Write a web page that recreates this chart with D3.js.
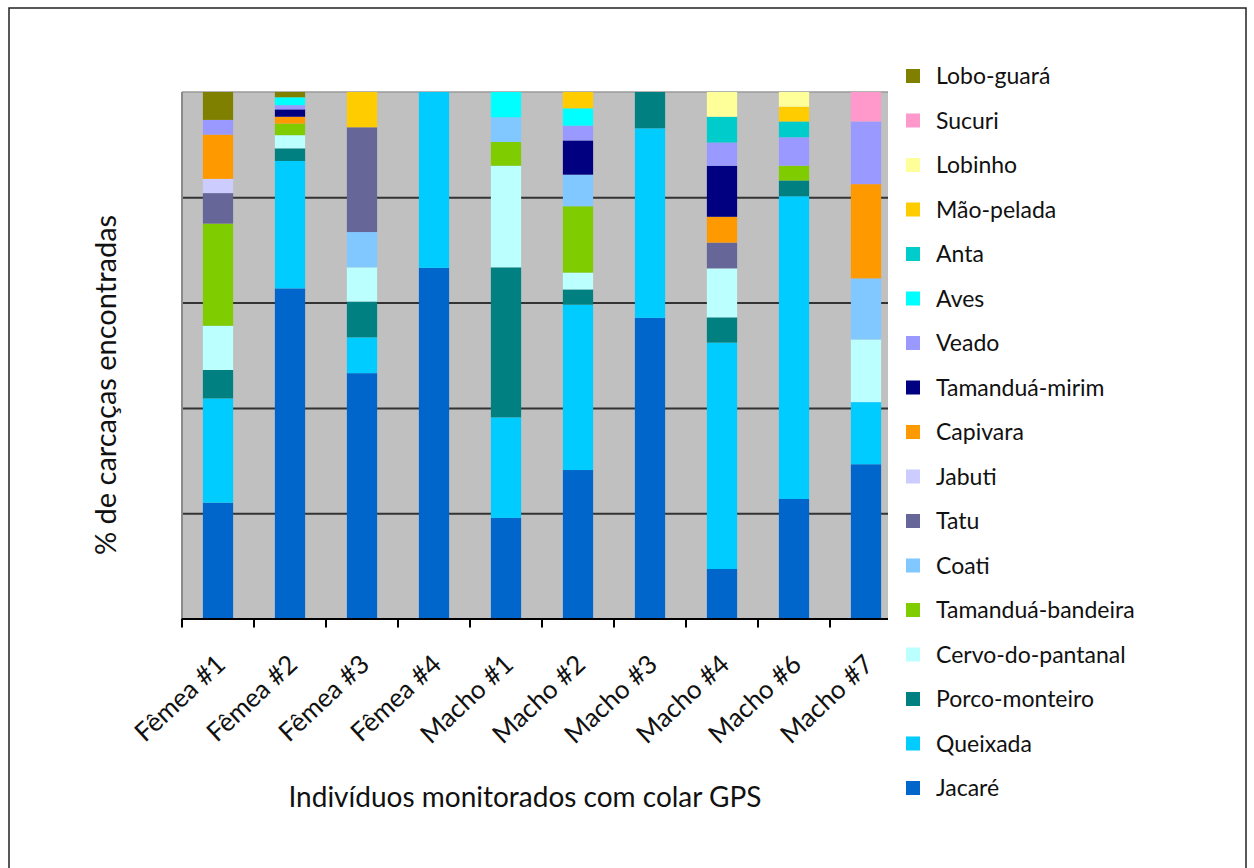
<!DOCTYPE html>
<html>
<head>
<meta charset="utf-8">
<script src="https://cdn.jsdelivr.net/npm/d3@7"></script>
<style>
  html, body { margin: 0; padding: 0; background: #fff; }
  svg { display: block; font-family: Lato, "Open Sans", sans-serif; }
</style>
</head>
<body>
<svg id="chart" width="1254" height="868"></svg>
<script>
// Individuals monitored with GPS collars
const individuals = ["Fêmea #1","Fêmea #2","Fêmea #3","Fêmea #4","Macho #1","Macho #2","Macho #3","Macho #4","Macho #6","Macho #7"];

// Carcass species, stacking order (bottom to top)
const species = ["Jacaré","Queixada","Porco-monteiro","Cervo-do-pantanal","Tamanduá-bandeira","Coati","Tatu","Jabuti","Capivara","Tamanduá-mirim","Veado","Aves","Anta","Mão-pelada","Lobinho","Sucuri","Lobo-guará"];

const speciesColors = ["#0066CC","#00CCFF","#008080","#BBFFFF","#7FCC00","#80C8FF","#666699","#CCCCFF","#FF9900","#000080","#9999FF","#00FFFF","#00CCCC","#FFCC00","#FFFF99","#FF99CC","#808000"];

// % of carcasses found, one value per individual
const jacare            = [22.0, 62.7, 46.6, 66.6, 19.1, 28.2, 57.1,  9.4, 22.7, 29.3];
const queixada          = [19.8, 24.2,  6.8, 33.4, 19.1, 31.4, 36.0, 43.0, 57.5, 11.8];
const porcoMonteiro     = [ 5.4,  2.4,  6.8,  0.0, 28.5,  2.9,  6.9,  4.8,  3.0,  0.0];
const cervoDoPantanal   = [ 8.4,  2.5,  6.5,  0.0, 19.3,  3.2,  0.0,  9.3,  0.0, 11.9];
const tamanduaBandeira  = [19.4,  2.2,  0.0,  0.0,  4.5, 12.6,  0.0,  0.0,  2.8,  0.0];
const coati             = [ 0.0,  0.0,  6.7,  0.0,  4.7,  6.0,  0.0,  0.0,  0.0, 11.6];
const tatu              = [ 5.8,  0.0, 19.9,  0.0,  0.0,  0.0,  0.0,  4.9,  0.0,  0.0];
const jabuti            = [ 2.7,  0.0,  0.0,  0.0,  0.0,  0.0,  0.0,  0.0,  0.0,  0.0];
const capivara          = [ 8.4,  1.3,  0.0,  0.0,  0.0,  0.0,  0.0,  4.9,  0.0, 17.9];
const tamanduaMirim     = [ 0.0,  1.4,  0.0,  0.0,  0.0,  6.5,  0.0,  9.7,  0.0,  0.0];
const veado             = [ 2.8,  0.8,  0.0,  0.0,  0.0,  2.8,  0.0,  4.4,  5.4, 11.9];
const aves              = [ 0.0,  1.5,  0.0,  0.0,  4.8,  3.3,  0.0,  0.0,  0.0,  0.0];
const anta              = [ 0.0,  0.0,  0.0,  0.0,  0.0,  0.0,  0.0,  4.9,  3.0,  0.0];
const maoPelada         = [ 0.0,  0.0,  6.7,  0.0,  0.0,  3.1,  0.0,  0.0,  2.8,  0.0];
const lobinho           = [ 0.0,  0.0,  0.0,  0.0,  0.0,  0.0,  0.0,  4.7,  2.8,  0.0];
const sucuri            = [ 0.0,  0.0,  0.0,  0.0,  0.0,  0.0,  0.0,  0.0,  0.0,  5.6];
const loboGuara         = [ 5.3,  1.0,  0.0,  0.0,  0.0,  0.0,  0.0,  0.0,  0.0,  0.0];

const seriesValues = [jacare, queixada, porcoMonteiro, cervoDoPantanal, tamanduaBandeira, coati, tatu, jabuti, capivara, tamanduaMirim, veado, aves, anta, maoPelada, lobinho, sucuri, loboGuara];

const gridValues = [20, 40, 60, 80];

// Build rows for d3.stack
const rows = individuals.map((name, i) => {
  const row = { name };
  species.forEach((s, k) => { row[s] = seriesValues[k][i]; });
  return row;
});

const svg = d3.select("#chart");

const plot = { left: 182, top: 92, bottom: 618.5, right: 888 };

const x = d3.scaleBand().domain(individuals).range([plot.left, plot.left + 720]).padding(0);
const y = d3.scaleLinear().domain([0, 100]).range([plot.bottom, plot.top]);
const color = d3.scaleOrdinal().domain(species).range(speciesColors);
const barWidth = x.bandwidth() * 0.42;

// Outer frame
svg.append("rect")
  .attr("x", 9).attr("y", 8).attr("width", 1237).attr("height", 880)
  .attr("fill", "none").attr("stroke", "#222").attr("stroke-width", 1.5);

// Plot background
svg.append("rect")
  .attr("x", plot.left).attr("y", plot.top)
  .attr("width", plot.right - plot.left).attr("height", plot.bottom - plot.top)
  .attr("fill", "#C0C0C0");

// Top edge of plot area
svg.append("line")
  .attr("x1", plot.left).attr("x2", plot.right)
  .attr("y1", plot.top).attr("y2", plot.top)
  .attr("stroke", "#9a9a9a").attr("stroke-width", 1.5);

// Horizontal gridlines
const grid = svg.append("g")
  .attr("transform", `translate(${plot.left},0)`)
  .call(d3.axisLeft(y).tickValues(gridValues).tickSize(-(plot.right - plot.left)).tickFormat(""));
grid.select(".domain").remove();
grid.selectAll(".tick line").attr("stroke", "#333").attr("stroke-width", 2);

// Left edge of plot
svg.append("line")
  .attr("x1", plot.left).attr("x2", plot.left)
  .attr("y1", plot.top).attr("y2", plot.bottom)
  .attr("stroke", "#8a8a8a").attr("stroke-width", 2);

// Stacked bars
const stacked = d3.stack().keys(species)(rows);
svg.append("g")
  .selectAll("g")
  .data(stacked)
  .join("g")
  .attr("fill", d => color(d.key))
  .selectAll("rect")
  .data(d => d.filter(p => p[1] - p[0] > 0))
  .join("rect")
  .attr("x", d => x(d.data.name) + (x.bandwidth() - barWidth) / 2)
  .attr("width", barWidth)
  .attr("y", d => y(d[1]))
  .attr("height", d => y(d[0]) - y(d[1]));

// Bottom axis with ticks at category boundaries
const boundaries = individuals.map(d => x(d));
svg.append("line")
  .attr("x1", plot.left).attr("x2", plot.right)
  .attr("y1", plot.bottom + 0.5).attr("y2", plot.bottom + 0.5)
  .attr("stroke", "#000").attr("stroke-width", 2);
svg.append("g")
  .selectAll("line")
  .data(boundaries)
  .join("line")
  .attr("x1", d => d).attr("x2", d => d)
  .attr("y1", plot.bottom).attr("y2", plot.bottom + 9)
  .attr("stroke", "#000").attr("stroke-width", 2);

// Rotated category labels
svg.append("g")
  .selectAll("text")
  .data(individuals)
  .join("text")
  .attr("transform", d => `translate(${x(d) + x.bandwidth() / 2 + 9},${plot.bottom + 48}) rotate(-43)`)
  .attr("text-anchor", "end")
  .attr("font-size", 26)
  .attr("fill", "#111")
  .text(d => d);

// Axis titles
svg.append("text")
  .attr("x", 525).attr("y", 807)
  .attr("text-anchor", "middle")
  .attr("font-size", 28)
  .attr("fill", "#111")
  .text("Indivíduos monitorados com colar GPS");

svg.append("text")
  .attr("transform", "translate(116,385) rotate(-90)")
  .attr("text-anchor", "middle")
  .attr("font-size", 29)
  .attr("fill", "#111")
  .text("% de carcaças encontradas");

// Legend, top entry is the last stacked series
const legendItems = species.slice().reverse();
const legend = svg.append("g")
  .selectAll("g")
  .data(legendItems)
  .join("g")
  .attr("transform", (d, i) => `translate(906,${76 + i * 44.5})`);
legend.append("rect")
  .attr("x", 0).attr("y", -7).attr("width", 14).attr("height", 14)
  .attr("fill", d => color(d));
legend.append("text")
  .attr("x", 30).attr("y", 0)
  .attr("dy", "0.35em")
  .attr("font-size", 23)
  .attr("fill", "#111")
  .text(d => d);
</script>
</body>
</html>
